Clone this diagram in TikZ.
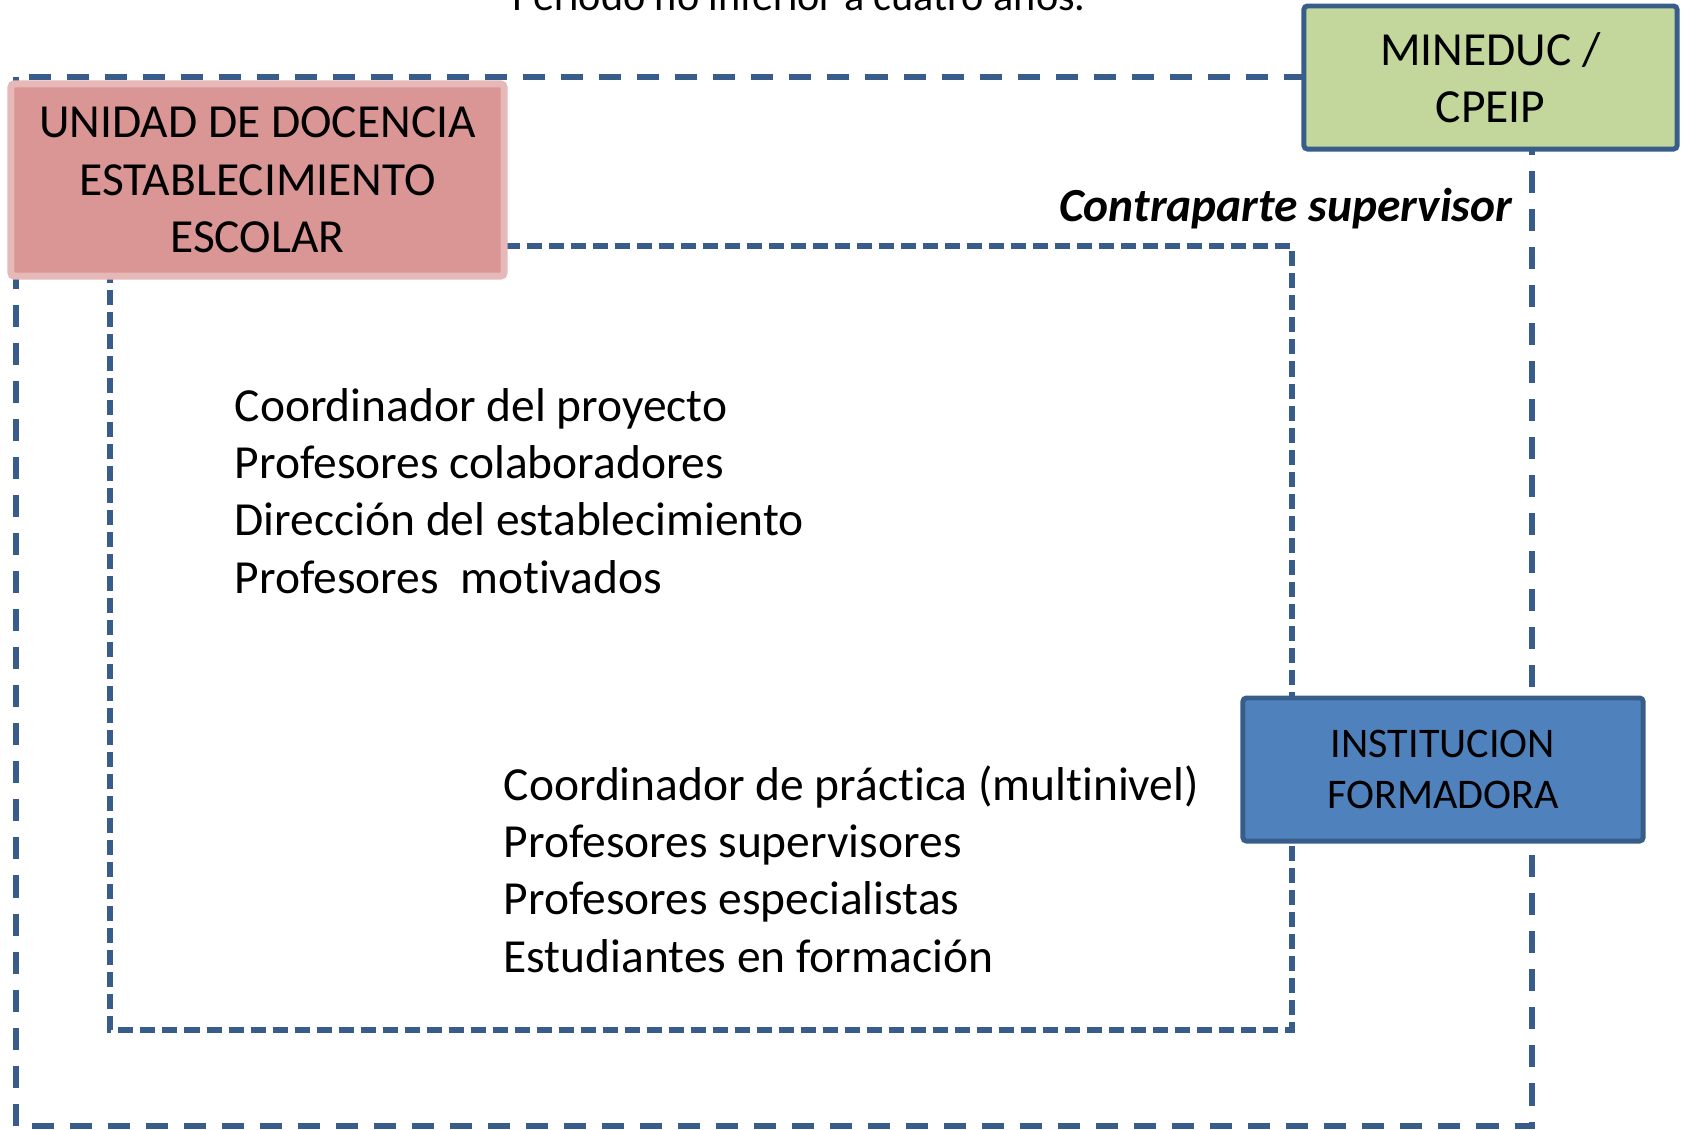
\documentclass[tikz,border=0pt]{standalone}
\usepackage{fontspec}
\setmainfont[Ligatures={NoCommon,NoContextual}]{Carlito}
\usepackage{xcolor}
\usepackage{tikz}

\definecolor{azulborde}{HTML}{385D8A}
\definecolor{rosa}{HTML}{D99694}
\definecolor{rosaborde}{HTML}{E6B9B8}
\definecolor{verde}{HTML}{C3D69B}
\definecolor{azul}{HTML}{4F81BD}

\newcommand{\texto}{\fontsize{13.5}{16.3}\selectfont}
\newcommand{\textochico}{\fontsize{12}{14.6}\selectfont}

\begin{document}
\begin{tikzpicture}[x=0.01cm,y=-0.01cm]
% Styles (MODIFIABLES)
\tikzstyle{exterior}=[draw=azulborde,line width=1.6pt,dash pattern=on 0.22cm off 0.16cm]
\tikzstyle{interior}=[draw=azulborde,line width=1.5pt,dash pattern=on 0.15cm off 0.07cm]
\tikzstyle{caja}=[rectangle,rounded corners=1pt,align=center,inner sep=0pt,text=black]
\tikzstyle{unidad}=[caja,fill=rosa,draw=rosaborde,line width=2pt,font=\texto]
\tikzstyle{ministerio}=[caja,fill=verde,draw=azulborde,line width=1.4pt,font=\texto]
\tikzstyle{institucion}=[caja,fill=azul,draw=azulborde,line width=1.4pt,font=\textochico]
\tikzstyle{lista}=[align=left,inner sep=0pt,anchor=west,font=\texto]
% Dimensions (MODIFIABLES)
\def\AnchoTotal{1682}
\def\AltoTotal{1129}
\useasboundingbox (0,0) rectangle (\AnchoTotal,\AltoTotal);
\clip (0,0) rectangle (\AnchoTotal,\AltoTotal);
% Coins des cadres pointilles
\coordinate (extNO) at (16,77);
\coordinate (extSE) at (1532,1126);
\coordinate (intNO) at (110,246);
\coordinate (intSE) at (1292,1030);
% Cadres (derriere les boites)
\draw[exterior] (extNO) rectangle (extSE);
\draw[interior] (intNO) rectangle (intSE);
% Boites
\node[unidad,minimum width=4.93cm,minimum height=1.92cm] (unidad) at (257.5,180)
  {UNIDAD DE DOCENCIA\\ESTABLECIMIENTO\\ESCOLAR};
\node[ministerio,minimum width=3.73cm,minimum height=1.43cm] (mineduc) at (1490.5,77.5)
  {MINEDUC /\\CPEIP};
\node[institucion,minimum width=4cm,minimum height=1.43cm] (formadora) at (1443,769.5)
  {INSTITUCION\\FORMADORA};
% Textes
\node[anchor=base,font=\textochico,inner sep=0pt] (periodo) at (799,10) {Periodo no inferior a cuatro años.};
\node[anchor=base east,font=\texto\bfseries\itshape,inner sep=0pt] (contraparte) at (1513,221) {Contraparte supervisor};
\node[lista] (escuela) at (234,491)
  {Coordinador del proyecto\\Profesores colaboradores\\Dirección del establecimiento\\Profesores~ motivados};
\node[lista] (practica) at (503,869)
  {Coordinador de práctica (multinivel)\\Profesores supervisores\\Profesores especialistas\\Estudiantes en formación};
\end{tikzpicture}
\end{document}
